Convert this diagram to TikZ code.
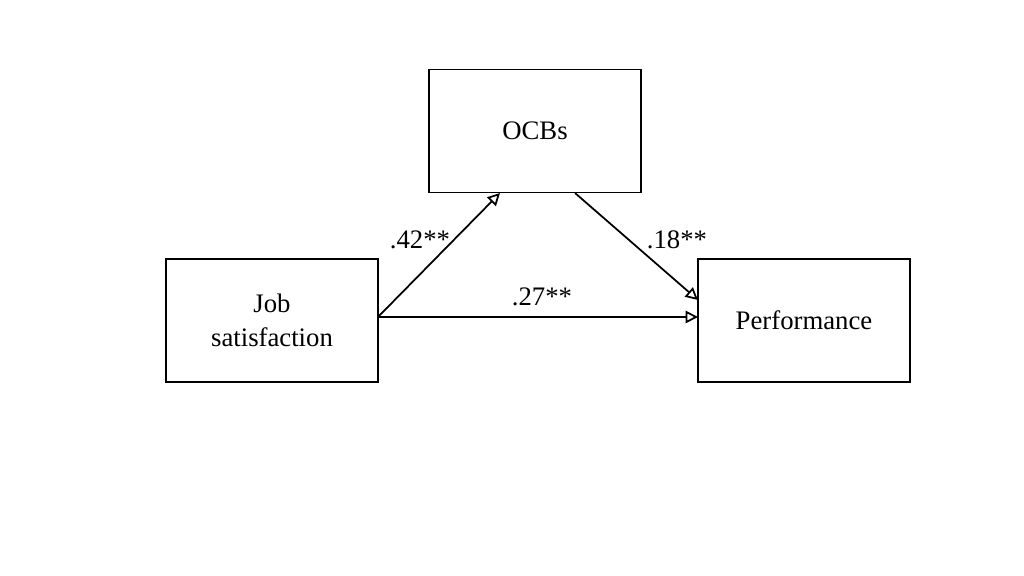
\documentclass[tikz,border=0pt]{standalone}
\usepackage{fontspec}
\setmainfont{Liberation Serif}
\usetikzlibrary{arrows.meta}
\begin{document}
\begin{tikzpicture}[x=0.01cm,y=-0.01cm,
  box/.style={draw,line width=0.35pt,minimum width=2.12cm,minimum height=1.23cm,align=center,font=\fontsize{7.6}{9.6}\selectfont},
  lbl/.style={font=\fontsize{7.6}{9.6}\selectfont},
  arr/.style={line width=0.5pt,-{Triangle[open,length=3.5pt,width=3.5pt]}}]
\useasboundingbox (0,0) rectangle (1024,576);
\node[box] (ocb) at (535,131) {OCBs};
\node[box] (job) at (272,320.5) {Job\\satisfaction};
\node[box] (perf) at (804,320.5) {Performance};
\coordinate (js) at (378,317);
\coordinate (ob1) at (500,193);
\coordinate (ob2) at (575,193);
\coordinate (pl1) at (698,300);
\coordinate (pl2) at (698,317);
\draw[arr] (js) -- (ob1);
\draw[arr] (ob2) -- (pl1);
\draw[arr] (js) -- (pl2);
\node[lbl] (l1) at (420,240) {.42**};
\node[lbl] (l2) at (677,240) {.18**};
\node[lbl] (l3) at (542,297) {.27**};
\end{tikzpicture}
\end{document}
